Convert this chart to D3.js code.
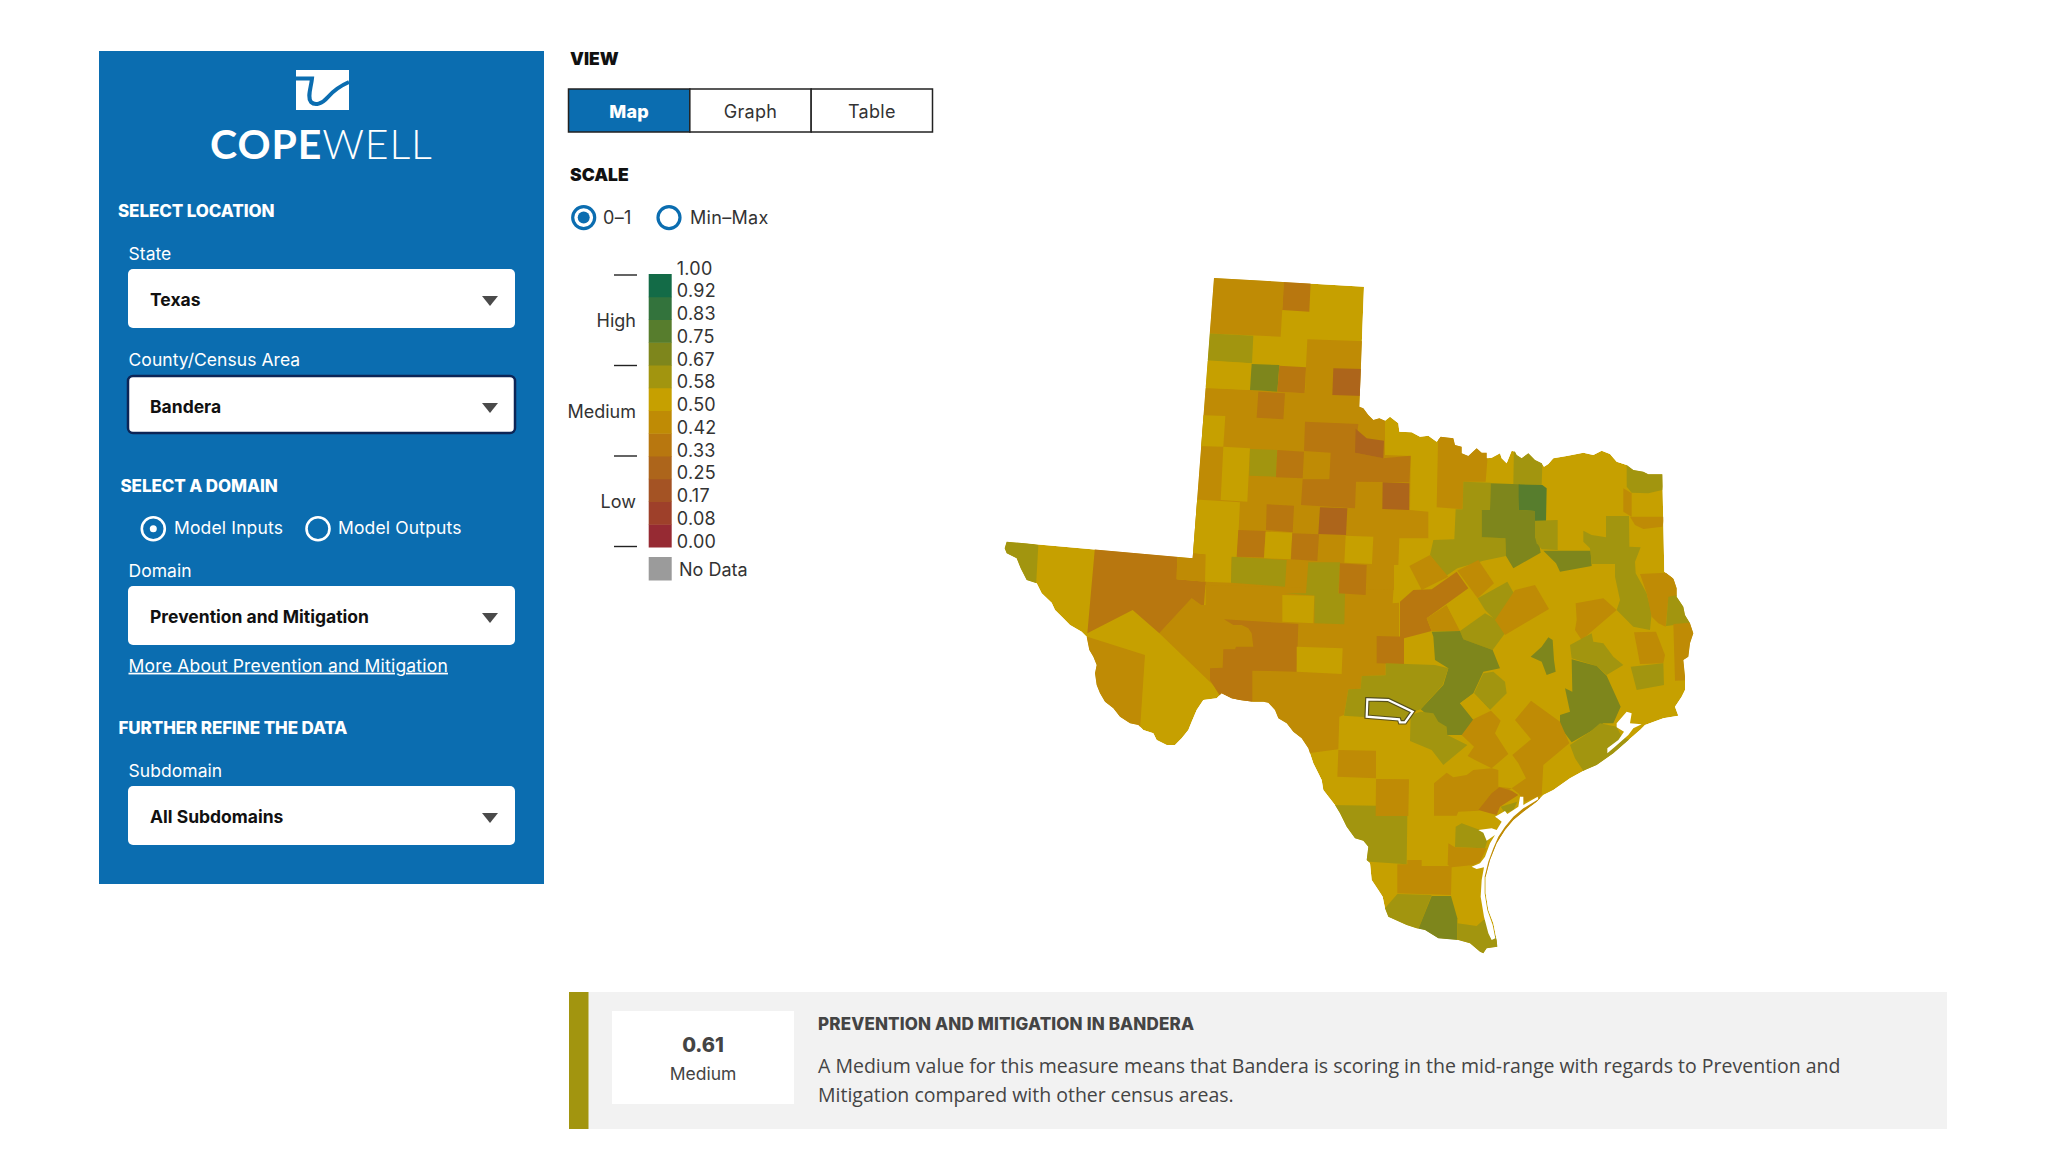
<!DOCTYPE html>
<html>
<head>
<meta charset="utf-8">
<title>Copewell</title>
<script src="https://cdn.jsdelivr.net/npm/d3@7"></script>
<style>
  html, body { margin: 0; background: #fff; }
  svg { display: block; }
  text { font-family: Inter, "Noto Sans", sans-serif; }
</style>
</head>
<body>
<div id="chart"></div>
<script>
// legend
const legendTicks = ['1.00', '0.92', '0.83', '0.75', '0.67', '0.58', '0.50', '0.42', '0.33', '0.25', '0.17', '0.08', '0.00'];
const legendColors = ['#962a33', '#9e402a', '#a45324', '#ad651b', '#b8770f', '#bf8b05', '#c6a000', '#a2950f', '#7e861c', '#577d2d', '#33733c', '#136b47'];
const levelNames = ['High', 'Medium', 'Low'];
const viewTabs = ['Map', 'Graph', 'Table'];
const selectedValue = 0.61;

// county scores, grouped by colour step
const GOLD = 0.54, DARK = 0.46, ORANGE = 0.38, BROWN = 0.30, OLIVE = 0.62, GREEN = 0.71, DEEP = 0.79;
const baseValue = GOLD;

// rings are in sheet units: 3 units to a pixel, from the sheet origin
const outlineNorth = [[72,24],[522,50],[508,410],[520,415],[535,435],[550,450],[568,445],[585,452],[600,440],[625,460],[628,485],[665,487],[690,500],[715,497],[740,515],[752,500],[790,505],[795,525],[815,530],[815,550],[835,558],[860,535],[875,548],[890,548]];
const outlineEast = [[260,85],[275,83],[300,70],[305,85],[320,100],[335,62],[345,65],[350,75],[365,85],[385,70],[405,90],[425,100],[432,110],[445,102],[460,85],[500,78],[550,68],[580,75],[605,62],[630,72],[650,95],[680,105],[700,120],[730,125],[745,133],[787,133],[793,425],[820,445],[830,475],[830,500],[850,530],[855,555],[870,580],[880,610],[870,640],[865,680],[850,690],[855,740],[855,780],[845,800],[825,830],[835,857],[790,865],[735,885],[720,900],[695,922],[640,970],[590,1005],[555,1020]];
const outlineSouth = [[780,295],[730,330],[700,345],[680,365],[640,395],[610,420],[585,450],[560,490],[540,540],[527,590],[527,640],[535,690],[550,730],[560,780],[562,800],[530,805],[520,820],[510,815],[480,790],[445,780],[385,775],[345,750],[320,745],[290,735],[235,710],[225,685],[218,650],[205,630],[185,600],[180,550],[170,540],[175,500],[160,482],[135,475],[110,440],[90,400],[75,375],[40,330],[35,300],[25,280],[10,250]];
const outlineWest = [[925,655],[905,625],[880,605],[860,580],[835,565],[825,540],[805,518],[790,515],[760,515],[720,510],[695,505],[665,490],[650,505],[610,510],[590,540],[575,575],[565,600],[545,625],[525,645],[500,645],[470,630],[460,610],[430,600],[415,585],[390,580],[360,560],[340,535],[315,515],[300,490],[290,465],[285,430],[290,405],[280,380],[268,360],[260,320],[245,305],[210,285],[190,265],[165,240],[155,218],[125,190],[110,160],[80,150],[62,115],[50,85],[20,70],[14,55],[20,35],[578,85]];

const transPecosBase = [
  { value: DARK, ring: [[617,155],[1182,155],[1178,220],[1197,218],[1197,320],[1212,320],[1212,402],[1157,402],[1157,436],[1085,438],[1082,476],[1045,478],[1032,555],[1018,560],[1015,658],[925,670],[780,560],[680,520],[665,490],[478,310],[575,205],[603,225],[617,225]] }
];
const panhandleCounties = [
  { value: DARK, ring: [[20,353],[180,360],[262,365],[345,370],[348,288],[352,208],[525,214],[520,400],[585,440],[585,555],[662,558],[660,720],[715,725],[715,805],[628,805],[625,885],[612,885],[612,960],[45,945],[-10,850]] },
  { value: DARK, ring: [[60,15],[282,30],[272,200],[45,190]] },
  { value: ORANGE, ring: [[282,30],[362,36],[358,125],[277,120]] },
  { value: OLIVE, ring: [[45,190],[190,197],[186,280],[38,270]] },
  { value: GOLD, ring: [[38,272],[185,280],[180,360],[30,352]] },
  { value: GREEN, ring: [[185,282],[268,285],[262,365],[180,360]] },
  { value: ORANGE, ring: [[268,287],[348,292],[344,370],[262,365]] },
  { value: BROWN, ring: [[430,295],[520,297],[520,378],[427,375]] },
  { value: ORANGE, ring: [[205,365],[285,370],[280,448],[200,443]] },
  { value: GOLD, ring: [[25,435],[106,438],[100,530],[15,528]] },
  { value: GOLD, ring: [[100,530],[180,535],[172,695],[92,690]] },
  { value: GOLD, ring: [[5,688],[150,697],[142,860],[125,862],[123,938],[45,935],[47,853],[-10,850]] },
  { value: OLIVE, ring: [[180,537],[262,540],[258,620],[178,617]] },
  { value: ORANGE, ring: [[262,540],[342,545],[338,625],[258,622]] },
  { value: ORANGE, ring: [[345,455],[505,462],[495,548],[580,565],[662,557],[658,637],[498,635],[495,715],[333,705],[338,628],[418,628],[422,548],[342,543]] },
  { value: BROWN, ring: [[497,476],[530,505],[582,512],[580,565],[495,548]] },
  { value: BROWN, ring: [[578,637],[658,640],[657,720],[577,717]] },
  { value: ORANGE, ring: [[230,703],[312,707],[308,787],[228,780]] },
  { value: BROWN, ring: [[390,712],[472,715],[468,795],[385,792]] },
  { value: ORANGE, ring: [[145,780],[227,783],[222,862],[140,860]] },
  { value: GOLD, ring: [[227,785],[307,788],[302,868],[222,865]] },
  { value: ORANGE, ring: [[307,790],[387,793],[382,873],[303,868]] },
  { value: GOLD, ring: [[467,797],[550,800],[546,882],[463,878]] },
  { value: OLIVE, ring: [[125,860],[290,870],[285,950],[123,938]] }
];
const westCounties = [
  { value: OLIVE, ring: [[0,25],[115,45],[108,170],[40,170],[0,80]] },
  { value: ORANGE, ring: [[285,50],[532,70],[530,148],[617,155],[612,225],[603,225],[575,205],[478,310],[398,240],[262,310]] },
  { value: DARK, ring: [[532,70],[582,70],[615,75],[615,155],[530,148]] },
  { value: DARK, ring: [[262,320],[435,375],[420,600],[370,600],[300,540],[230,340]] },
  { value: OLIVE, ring: [[925,97],[1020,97],[1015,190],[1035,190],[1033,283],[943,280],[943,197],[855,190],[918,190]] },
  { value: ORANGE, ring: [[1020,100],[1100,105],[1097,195],[1017,190]] },
  { value: GOLD, ring: [[847,195],[943,197],[940,280],[847,275]] },
  { value: ORANGE, ring: [[672,268],[895,282],[890,425],[757,422],[757,530],[680,530],[630,450],[630,415],[668,413],[670,358],[705,358],[708,350],[760,350],[755,310],[745,295],[725,285],[700,285]] },
  { value: GOLD, ring: [[890,350],[1028,355],[1025,432],[890,425]] },
  { value: ORANGE, ring: [[1130,318],[1212,320],[1212,402],[1130,400]] }
];
const eastCounties = [
  { value: DARK, ring: [[115,-10],[270,-10],[257,155],[190,155],[188,238],[110,232]] },
  { value: OLIVE, ring: [[342,40],[428,70],[425,165],[340,162]] },
  { value: OLIVE, ring: [[190,155],[272,158],[270,240],[245,240],[245,322],[316,325],[318,378],[250,392],[172,415],[138,438],[90,375],[100,330],[163,328],[167,238],[188,238]] },
  { value: GREEN, ring: [[272,160],[358,163],[356,240],[405,243],[405,320],[418,345],[422,368],[340,415],[318,378],[316,325],[245,322],[245,240],[270,240]] },
  { value: DEEP, ring: [[356,163],[427,165],[440,175],[438,275],[405,275],[405,243],[356,240]] },
  { value: OLIVE, ring: [[405,272],[473,270],[473,360],[425,358],[410,340],[405,320]] },
  { value: GREEN, ring: [[430,362],[572,362],[575,408],[480,425],[468,400]] },
  { value: OLIVE, ring: [[680,90],[800,110],[787,180],[745,190],[695,188],[680,170]] },
  { value: DARK, ring: [[670,175],[695,190],[695,260],[670,245]] },
  { value: DARK, ring: [[690,260],[795,260],[787,290],[730,297],[705,285]] },
  { value: OLIVE, ring: [[618,258],[687,258],[688,350],[722,352],[705,395],[707,430],[740,490],[755,550],[750,600],[700,590],[650,540],[660,510],[645,440],[645,402],[575,402],[570,355],[550,335],[550,302],[575,315],[618,322]] },
  { value: DARK, ring: [[720,432],[800,428],[840,465],[830,498],[805,505],[797,590],[775,580],[755,560],[740,490]] },
  { value: OLIVE, ring: [[805,500],[835,495],[880,578],[798,588]] },
  { value: DARK, ring: [[820,582],[890,577],[890,750],[825,752]] },
  { value: DARK, ring: [[702,607],[768,605],[795,675],[790,700],[720,702]] },
  { value: OLIVE, ring: [[692,710],[790,700],[792,765],[710,780]] },
  { value: DARK, ring: [[527,520],[610,505],[650,540],[545,630],[525,600],[530,570]] },
  { value: GREEN, ring: [[392,680],[425,650],[445,622],[458,630],[462,690],[467,725],[440,735],[425,695]] },
  { value: OLIVE, ring: [[510,645],[575,610],[580,635],[610,640],[640,680],[670,705],[620,735],[590,708],[515,685]] },
  { value: GREEN, ring: [[515,688],[590,708],[620,737],[662,830],[640,880],[610,880],[570,905],[515,937],[480,890],[480,855],[510,845],[495,775],[517,785]] },
  { value: OLIVE, ring: [[510,945],[570,905],[600,880],[650,890],[665,920],[690,930],[590,1030],[555,1030],[525,985]] },
  { value: DARK, ring: [[28,408],[90,375],[145,440],[65,480]] },
  { value: DARK, ring: [[172,422],[235,390],[282,460],[233,505]] },
  { value: ORANGE, ring: [[0,515],[40,480],[95,478],[170,425],[205,475],[80,565],[95,603],[12,625],[12,700],[0,700]] },
  { value: DARK, ring: [[80,565],[140,525],[180,603],[95,603]] },
  { value: GOLD, ring: [[140,525],[215,483],[258,545],[180,600]] },
  { value: OLIVE, ring: [[233,505],[322,455],[357,517],[285,570],[255,540]] },
  { value: OLIVE, ring: [[180,603],[255,550],[285,567],[315,610],[278,660],[190,628]] },
  { value: DARK, ring: [[285,570],[345,480],[405,465],[447,537],[315,615]] },
  { value: GREEN, ring: [[95,605],[180,603],[190,628],[278,660],[300,715],[250,725],[220,790],[180,820],[220,870],[190,915],[142,915],[100,870],[62,838],[130,765],[145,715],[105,690],[100,620]] },
  { value: OLIVE, ring: [[280,725],[315,755],[320,790],[270,840],[222,790],[250,730]] },
  { value: GOLD, ring: [[180,820],[222,790],[270,840],[225,868]] }
];
const southCounties = [
  { value: OLIVE, ring: [[102,107],[115,28],[152,26],[155,-12],[227,-14],[227,-50],[375,-45],[415,-35],[398,15],[332,88],[300,98],[270,125],[170,112]] },
  { value: OLIVE, ring: [[332,95],[370,100],[385,125],[410,140],[412,165],[472,195],[400,255],[365,210],[300,183],[302,105]] },
  { value: DARK, ring: [[490,118],[543,92],[572,122],[555,160],[595,222],[545,265],[495,240],[473,228],[492,200],[455,165]] },
  { value: DARK, ring: [[615,120],[663,62],[750,125],[778,190],[700,255],[695,345],[645,365],[625,340],[605,325],[648,295],[625,250],[607,225],[663,178]] },
  { value: DARK, ring: [[372,310],[410,278],[430,292],[470,285],[490,270],[545,265],[565,270],[565,320],[605,325],[570,350],[505,392],[445,395],[440,407],[372,407]] },
  { value: ORANGE, ring: [[505,390],[545,340],[568,322],[605,332],[625,345],[570,380],[560,405],[540,400]] },
  { value: OLIVE, ring: [[572,380],[622,365],[610,390],[585,400]] },
  { value: OLIVE, ring: [[437,440],[455,430],[510,450],[540,455],[525,505],[435,502]] },
  { value: DARK, ring: [[415,490],[435,502],[530,505],[510,545],[490,555],[425,562],[413,555]] },
  { value: DARK, ring: [[262,553],[292,553],[292,540],[335,540],[335,558],[425,558],[423,645],[262,640]] },
  { value: OLIVE, ring: [[60,375],[198,377],[198,408],[292,408],[290,553],[180,545],[150,540],[120,480],[80,420]] },
  { value: DARK, ring: [[85,210],[198,212],[198,295],[82,290]] },
  { value: DARK, ring: [[198,297],[297,298],[295,408],[197,408]] },
  { value: OLIVE, ring: [[225,685],[262,642],[365,645],[320,760],[290,750],[215,720]] },
  { value: GREEN, ring: [[365,648],[423,648],[442,715],[442,790],[385,790],[320,760]] },
  { value: OLIVE, ring: [[442,730],[500,738],[520,720],[535,720],[570,800],[530,830],[500,830],[442,790]] },
  { value: DARK, ring: [[690,350],[695,372],[640,405],[600,435],[572,472],[548,530],[532,590],[520,590],[538,500],[568,440],[620,395]] }
];
const bayEast = [[650,880],[680,845],[695,850],[690,880],[725,883],[700,895],[685,915],[645,950],[622,970],[622,955],[655,930],[672,905],[650,892]];
const bayCoastal = [[555,410],[585,393],[592,402],[625,380],[630,350],[640,350],[640,375],[683,350],[685,358],[640,385],[610,410],[585,440],[565,470],[550,505],[535,545],[524,590],[524,640],[532,690],[548,735],[556,775],[545,780],[535,760],[522,710],[512,650],[515,600],[522,562],[500,567],[485,560],[510,550],[525,530],[540,490],[555,465],[530,482],[520,458],[505,450],[545,445],[560,450],[575,425],[562,415]];
const banderaRing = [[172,58],[235,60],[308,95],[285,127],[270,127],[267,118],[170,110]];

const width = 2046;
const height = 1168;
const BLUE = '#0b6db0';

const color = d3.scaleQuantize().domain([0, 1]).range(legendColors);

const svg = d3.select('#chart').append('svg')
  .attr('width', width)
  .attr('height', height);

function addText(g, str, x, y, opt = {}) {
  return g.append('text')
    .attr('x', x)
    .attr('y', y)
    .attr('fill', opt.fill || '#333')
    .attr('font-size', opt.size || 17.5)
    .attr('font-weight', opt.weight || 400)
    .attr('text-anchor', opt.anchor || 'start')
    .attr('letter-spacing', opt.spacing || 0)
    .style('font-family', opt.family || null)
    .text(str);
}

// ---- side panel
const panel = svg.append('g');
panel.append('rect').attr('x', 99).attr('y', 51).attr('width', 445).attr('height', 833).attr('fill', BLUE);

panel.append('rect').attr('x', 296).attr('y', 70).attr('width', 53).attr('height', 40).attr('fill', '#fff');
panel.append('path')
  .attr('d', 'M296,78.5 L312,78.5 C311,88 307,97 311,102 C315,106 322,104 328,97 C334,90 340,86 349,82')
  .attr('fill', 'none')
  .attr('stroke', BLUE)
  .attr('stroke-width', 4);
const brand = panel.append('text').attr('x', 210).attr('y', 159).attr('fill', '#fff').attr('font-size', 41).attr('letter-spacing', 0.9).style('font-family', 'Lato');
brand.append('tspan').attr('font-weight', 700).text('COPE');
brand.append('tspan').attr('font-weight', 300).text('WELL');

const panelHeads = [['SELECT LOCATION', 118, 217], ['SELECT A DOMAIN', 120.5, 492], ['FURTHER REFINE THE DATA', 118.5, 734]];
panelHeads.forEach(([t, x, y]) => addText(panel, t, x, y, { fill: '#fff', weight: 800, size: 17, spacing: -0.1 }));

const panelLabels = [['State', 259.5], ['County/Census Area', 366], ['Domain', 577], ['Subdomain', 777]];
panelLabels.forEach(([t, y]) => addText(panel, t, 128.5, y, { fill: '#fff', size: 17.5, spacing: 0.05 }));

const selects = [['Texas', 269, 59], ['Bandera', 376, 57], ['Prevention and Mitigation', 586, 59], ['All Subdomains', 786, 59]];
selects.forEach(([t, y, h], i) => {
  panel.append('rect')
    .attr('x', 128).attr('y', y).attr('width', 387).attr('height', h).attr('rx', 5)
    .attr('fill', '#fff')
    .attr('stroke', i === 1 ? '#0c2556' : 'none')
    .attr('stroke-width', 2.5);
  addText(panel, t, 150, y + 37, { fill: '#111', weight: 700, size: 17.5 });
  panel.append('path')
    .attr('d', d3.line()([[482, y + 27], [498, y + 27], [490, y + 37]]) + 'Z')
    .attr('fill', '#4a4a4a');
});

const radioInputs = [['Model Inputs', 153.3, 174, true], ['Model Outputs', 318, 338, false]];
radioInputs.forEach(([t, cx, tx, on]) => {
  panel.append('circle').attr('cx', cx).attr('cy', 528.7).attr('r', 11.5).attr('fill', 'none').attr('stroke', '#fff').attr('stroke-width', 2.6);
  if (on) panel.append('circle').attr('cx', cx).attr('cy', 528.7).attr('r', 3.5).attr('fill', '#fff');
  addText(panel, t, tx, 534, { fill: '#fff', size: 17.5, spacing: 0.15 });
});

addText(panel, 'More About Prevention and Mitigation', 128.5, 671.7, { fill: '#fff', size: 17.5, spacing: 0.2 })
  .attr('text-decoration', 'underline');

// ---- view and scale controls
const controls = svg.append('g');
addText(controls, 'VIEW', 570, 64.5, { fill: '#111', weight: 900, size: 17.5 });
addText(controls, 'SCALE', 570, 180.5, { fill: '#111', weight: 900, size: 17.5 });

const tabX = d3.scaleBand().domain(viewTabs).range([568.5, 932.5]);
controls.selectAll('rect.tab')
  .data(viewTabs)
  .join('rect')
  .attr('class', 'tab')
  .attr('x', d => tabX(d))
  .attr('y', 89)
  .attr('width', tabX.bandwidth())
  .attr('height', 43)
  .attr('fill', (d, i) => i === 0 ? BLUE : '#fff')
  .attr('stroke', '#222')
  .attr('stroke-width', 1.5);
controls.selectAll('text.tab')
  .data(viewTabs)
  .join('text')
  .attr('class', 'tab')
  .attr('x', d => tabX(d) + tabX.bandwidth() / 2)
  .attr('y', 118)
  .attr('text-anchor', 'middle')
  .attr('font-size', 18)
  .attr('letter-spacing', 0.3)
  .attr('font-weight', (d, i) => i === 0 ? 800 : 400)
  .attr('fill', (d, i) => i === 0 ? '#fff' : '#333')
  .text(d => d);

const radioScale = [['0–1', 583.7, 603, true], ['Min–Max', 669, 690, false]];
radioScale.forEach(([t, cx, tx, on]) => {
  controls.append('circle').attr('cx', cx).attr('cy', 217.6).attr('r', 11).attr('fill', '#fff').attr('stroke', BLUE).attr('stroke-width', 3.2);
  if (on) controls.append('circle').attr('cx', cx).attr('cy', 217.6).attr('r', 6).attr('fill', BLUE);
  addText(controls, t, tx, 223.5, { size: 18, spacing: 0.3 });
});

// ---- legend
const legend = svg.append('g');
const legendY = d3.scalePoint().domain(legendTicks).range([274, 547]);
const bandH = legendY.step();

// colours run low to high, the ticks top to bottom
legend.selectAll('rect.band')
  .data(legendColors)
  .join('rect')
  .attr('class', 'band')
  .attr('x', 648.7)
  .attr('y', (d, i) => legendY(legendTicks[legendColors.length - 1 - i]))
  .attr('width', 23)
  .attr('height', bandH + 0.5)
  .attr('fill', d => d);

legend.append('g')
  .attr('transform', 'translate(671.7,0)')
  .call(d3.axisRight(legendY).tickSize(0).tickPadding(5))
  .call(g => g.select('.domain').remove())
  .call(g => g.selectAll('text')
    .attr('dy', 0)
    .attr('fill', '#333')
    .attr('letter-spacing', 0.3)
    .style('font-size', '18px')
    .style('font-family', 'Inter'));

const levelY = d3.scaleLinear().domain([0, 3]).range([275, 546.5]);
d3.range(4).forEach(i => {
  legend.append('line')
    .attr('x1', 614).attr('x2', 637)
    .attr('y1', levelY(i)).attr('y2', levelY(i))
    .attr('stroke', '#222').attr('stroke-width', 1.4);
});
levelNames.forEach((t, i) => addText(legend, t, 636, levelY(i) + 52, { anchor: 'end', size: 18 }));

legend.append('rect').attr('x', 648.7).attr('y', 557).attr('width', 23).attr('height', 23.5).attr('fill', '#9b9b9b');
addText(legend, 'No Data', 679, 575.7, { size: 18 });

// ---- map
const sheetPanhandle = [1190, 270];
const sheetWest = [1000, 530];
const sheetEast = [1400, 430];
const sheetSouth = [1310, 680];

function place(sheet) {
  const x = d3.scaleLinear().domain([0, 3]).range([sheet[0], sheet[0] + 1]);
  const y = d3.scaleLinear().domain([0, 3]).range([sheet[1], sheet[1] + 1]);
  return ring => ring.map(d => [x(d[0]), y(d[1])]);
}
const closed = d3.line();
const ringPath = pts => closed(pts) + 'Z';

const statePts = [].concat(
  place(sheetPanhandle)(outlineNorth),
  place(sheetEast)(outlineEast),
  place(sheetSouth)(outlineSouth),
  place(sheetWest)(outlineWest)
);

svg.append('clipPath').attr('id', 'state').append('path').attr('d', ringPath(statePts));

const map = svg.append('g').attr('clip-path', 'url(#state)');
map.append('path').attr('d', ringPath(statePts)).attr('fill', color(baseValue));

const sheets = [
  [sheetWest, transPecosBase],
  [sheetPanhandle, panhandleCounties],
  [sheetWest, westCounties],
  [sheetEast, eastCounties],
  [sheetSouth, southCounties]
];
sheets.forEach(([sheet, counties]) => {
  const toPage = place(sheet);
  map.append('g')
    .selectAll('path')
    .data(counties)
    .join('path')
    .attr('d', d => ringPath(toPage(d.ring)))
    .attr('fill', d => color(d.value));
});

map.append('path').attr('d', ringPath(place(sheetEast)(bayEast))).attr('fill', '#fff');
map.append('path').attr('d', ringPath(place(sheetSouth)(bayCoastal))).attr('fill', '#fff');

const banderaPath = ringPath(place(sheetSouth)(banderaRing));
svg.append('path').attr('d', banderaPath).attr('fill', color(selectedValue)).attr('stroke', '#222').attr('stroke-opacity', 0.6).attr('stroke-width', 4.5);
svg.append('path').attr('d', banderaPath).attr('fill', 'none').attr('stroke', '#fff').attr('stroke-width', 2.2);

// ---- selected county note
const note = svg.append('g');
note.append('rect').attr('x', 569).attr('y', 992).attr('width', 1378).attr('height', 137).attr('fill', '#f2f2f2');
note.append('rect').attr('x', 569).attr('y', 992).attr('width', 19.5).attr('height', 137).attr('fill', color(selectedValue));
note.append('rect').attr('x', 612).attr('y', 1011).attr('width', 182).attr('height', 93).attr('fill', '#fff');
addText(note, d3.format('.2f')(selectedValue), 703, 1051.5, { anchor: 'middle', weight: 800, size: 20, fill: '#444' });
addText(note, 'Medium', 703, 1079.5, { anchor: 'middle', size: 17.5, fill: '#444' });
addText(note, 'PREVENTION AND MITIGATION IN BANDERA', 818, 1029.5, { weight: 800, size: 17, fill: '#444', spacing: 0.15 });
addText(note, 'A Medium value for this measure means that Bandera is scoring in the mid-range with regards to Prevention and', 818, 1073, { size: 19.5, fill: '#444', family: 'Open Sans' });
addText(note, 'Mitigation compared with other census areas.', 818, 1102, { size: 19.5, fill: '#444', family: 'Open Sans' });
</script>
</body>
</html>
